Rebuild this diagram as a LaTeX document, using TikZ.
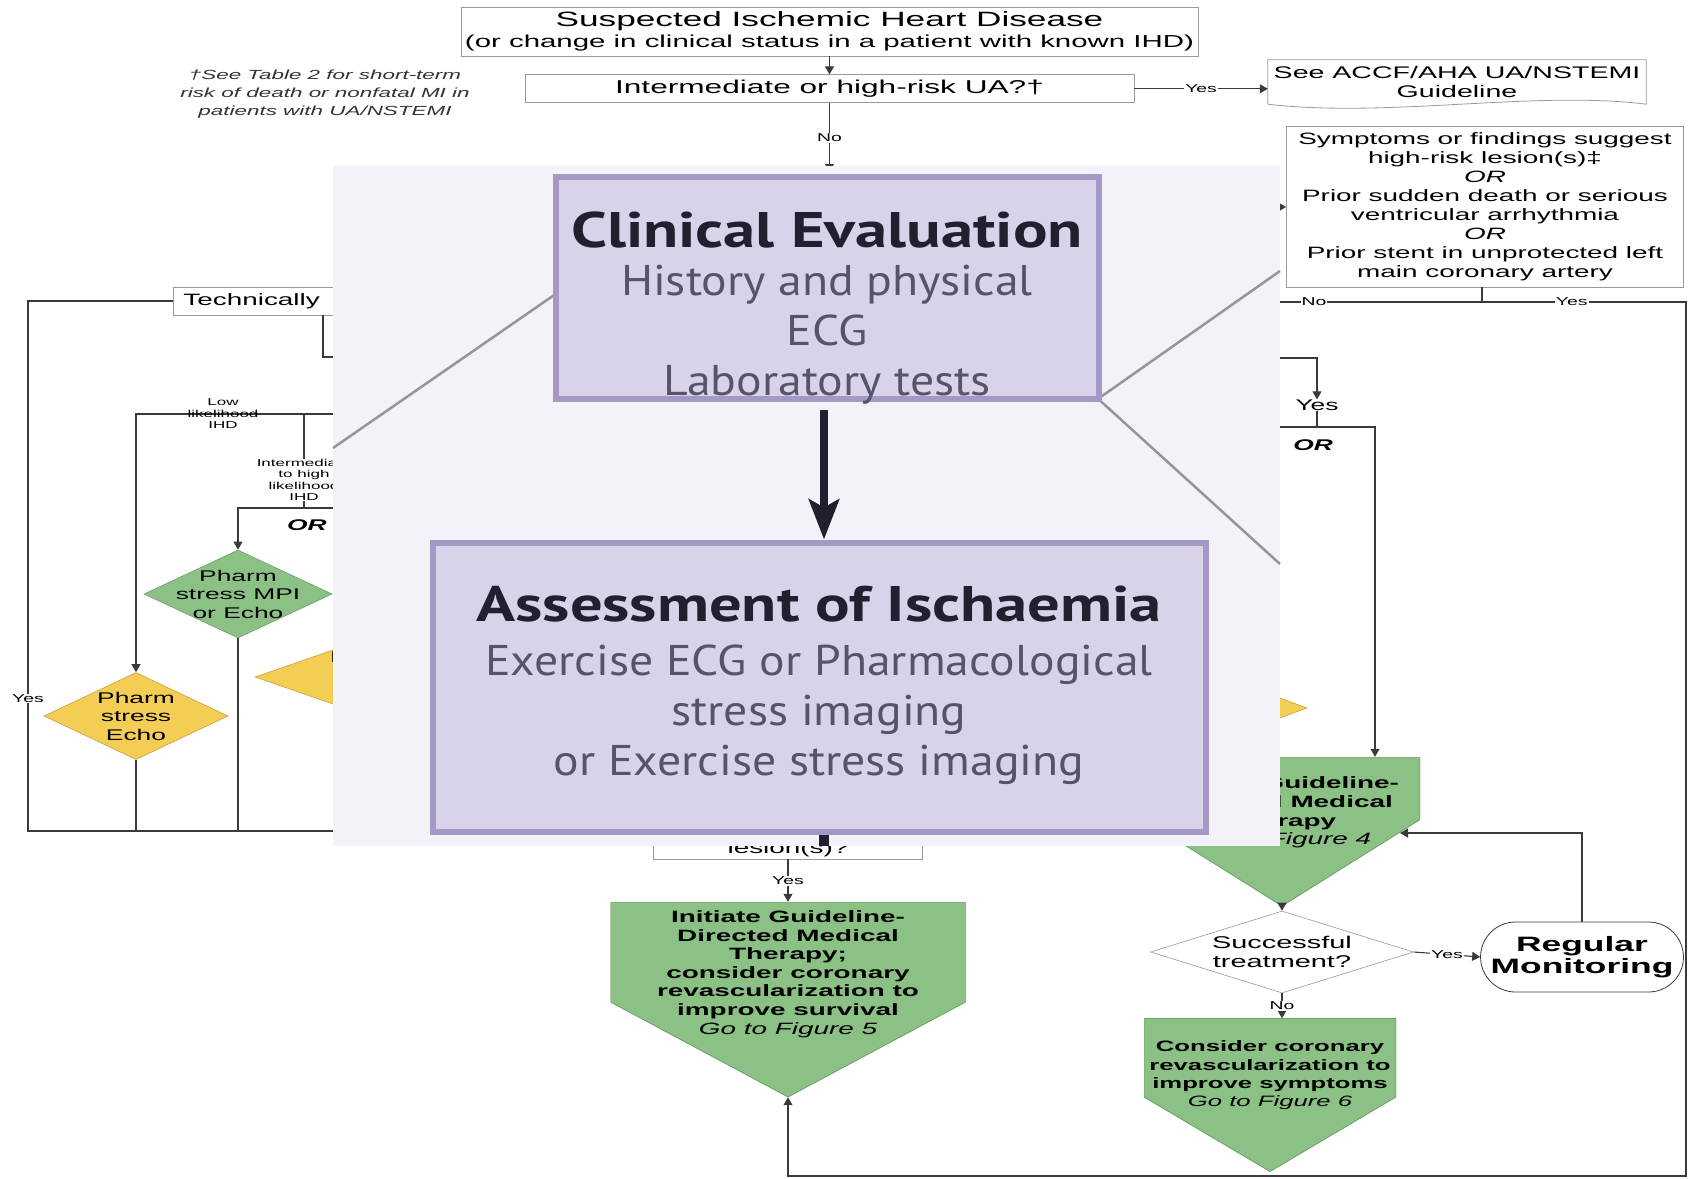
\documentclass[tikz,border=0pt]{standalone}
\usepackage{fontspec}
\setmainfont{Liberation Sans}
\newfontfamily\chartfont[FakeStretch=1.7]{Liberation Sans}
\newfontfamily\slidefont[FakeStretch=1.11]{PT Sans}
\newfontfamily\slidetitlefont[FakeStretch=1.29]{PT Sans}
\usetikzlibrary{arrows.meta,shapes.geometric,shapes.misc,calc,positioning}

\definecolor{gfill}{HTML}{8BC184}
\definecolor{gedge}{HTML}{6E9E69}
\definecolor{yfill}{HTML}{F4CD55}
\definecolor{yedge}{HTML}{C9A13E}
\definecolor{lineclr}{HTML}{3A3A3A}
\definecolor{boxedge}{HTML}{9A9A9A}
\definecolor{slidebg}{HTML}{F3F2F8}
\definecolor{slideline}{HTML}{96959E}
\definecolor{purfill}{HTML}{D9D3EA}
\definecolor{puredge}{HTML}{A598C6}
\definecolor{purtitle}{HTML}{221F2E}
\definecolor{pursub}{HTML}{57536B}

\newcommand{\fsz}[2]{\fontsize{#1}{#2}\selectfont}

\begin{document}
\begin{tikzpicture}[
  x=1pt, y=-1pt,
  conn/.style={draw=lineclr, line width=1.1pt},
  arr/.style={conn, -{Triangle[length=8pt,width=9pt]}},
  box/.style={rectangle, draw=boxedge, fill=white, line width=0.8pt, align=center, inner sep=0pt, font=\chartfont\fsz{16.4}{19}},
  lbl/.style={fill=white, inner sep=1pt, align=center, font=\chartfont\fsz{11.4}{12}},
  tinylbl/.style={inner sep=0pt, align=center, font=\chartfont\fsz{10}{11.5}},
  diam/.style={diamond, inner sep=0pt, line width=0.6pt},
  ydiam/.style={diam, draw=yedge, fill=yfill},
  gdiam/.style={diam, draw=gedge, fill=gfill},
  dtext/.style={inner sep=0pt, align=center, font=\chartfont\fsz{15.5}{18.5}},
  pent/.style={rectangle, inner sep=0pt, path picture={
      \filldraw[fill=gfill, draw=gedge, line width=0.8pt]
        (path picture bounding box.north west) -- (path picture bounding box.north east)
        -- ($(path picture bounding box.north east)!#1!(path picture bounding box.south east)$)
        -- (path picture bounding box.south)
        -- ($(path picture bounding box.north west)!#1!(path picture bounding box.south west)$)
        -- cycle;}},
  ptext/.style={inner sep=0pt, align=center, font=\chartfont\bfseries\fsz{16.4}{18.6}},
  orlbl/.style={inner sep=0pt, font=\chartfont\bfseries\itshape\fsz{15.5}{18}},
  purbox/.style={rectangle, draw=puredge, fill=purfill, line width=6pt},
  slidetitle/.style={inner sep=0pt, align=center, text=purtitle, font=\slidetitlefont\bfseries\fsz{50}{54}},
  slidesub/.style={inner sep=0pt, align=center, text=pursub, font=\slidefont\fsz{43}{50}}
]
\useasboundingbox (0,0) rectangle (1700,1178);
\fill[white] (0,0) rectangle (1700,1178);

% top of the chart
\node[box, minimum width=737, minimum height=49, font=\chartfont\fsz{17.3}{21}] (suspect) at (829.5,31.5)
  {{\fsz{20.7}{22}Suspected Ischemic Heart Disease}\\(or change in clinical status in a patient with known IHD)};
\node[box, minimum width=609, minimum height=28, font=\chartfont\fsz{18.6}{21}, below=18pt of suspect] (uacheck) {Intermediate or high-risk UA?†};
\node[font=\chartfont\fsz{16.8}{19}, align=center, minimum width=378, minimum height=44, inner sep=0pt] (seeguide) at (1457,82) {See ACCF/AHA UA/NSTEMI\\Guideline};
\draw[boxedge, line width=0.8pt] (seeguide.south west) -- (seeguide.north west) -- (seeguide.north east) -- (seeguide.south east)
  .. controls +(-110,-14) and +(120,14) .. (seeguide.south west);
\coordinate (toSlide) at (829.5,172);

\draw[arr] (suspect) -- (uacheck);
\draw[arr] (uacheck.east) -- node[lbl]{Yes} (uacheck.east -| seeguide.west);
\draw[arr] (uacheck.south) -- node[lbl]{No} (toSlide);

\node[font=\chartfont\itshape\fsz{13.2}{18}, align=center, text=black!80] (footnote) at (325,94)
  {†See Table 2 for short-term\\risk of death or nonfatal MI in\\patients with UA/NSTEMI};

% left branch
\node[box, anchor=west, text width=230, align=left, minimum height=28, inner xsep=10pt] (techbox) at (173,301) {Technically};
\node[gdiam, minimum width=188, minimum height=88, label={[dtext]center:{Pharm\\stress MPI\\or Echo}}] (mpi) at (238,594) {};
\node[ydiam, minimum width=184, minimum height=87, label={[dtext]center:{Pharm\\stress\\Echo}}] (echo) at (136,716) {};
\node[ydiam, minimum width=300, minimum height=104, label={[dtext, xshift=-36pt]center:{Pharm\\CCTA\\(…)}}] (ccta) at (405,677) {};
\node[orlbl] (orLeft) at (307,525) {OR};

\coordinate (techCorner) at (28,301);
\coordinate (botLeft) at (28,831);
\coordinate (botHidden) at (430,831);
\coordinate (techHidden) at (430,357);
\coordinate (lowHidden) at (430,414);
\coordinate (lowCorner) at (136,414);
\coordinate (midTop) at (304,414);
\coordinate (midBot) at (304,508);
\coordinate (orHidden) at (430,508);

\draw[conn] (techbox.west) -- (techCorner) -- node[lbl, pos=0.75]{Yes} (botLeft) -- (botHidden);
\draw[conn] (techbox.south -| 323,0) |- (techHidden);
\draw[arr] (lowHidden) -- node[tinylbl, pos=0.704]{Low\\likelihood\\IHD} (lowCorner) -- (echo.north);
\draw[conn] (midTop) -- node[tinylbl, fill=white, pos=0.70]{Intermediate\\to high\\likelihood\\IHD} (midBot);
\draw[arr] (orHidden) -| (mpi.north);
\draw[conn] (echo.south) -- (echo.south |- botLeft);
\draw[conn] (mpi.south) -- (mpi.south |- botLeft);

% right branch
\node[box, minimum width=397, minimum height=161] (highrisk) at (1485,206.5)
  {Symptoms or findings suggest\\high-risk lesion(s)‡\\\textit{OR}\\Prior sudden death or serious\\ventricular arrhythmia\\\textit{OR}\\Prior stent in unprotected left\\main coronary artery};
\node[dtext] (yesRight) at (1317,405) {Yes};
\node[orlbl] (orRight) at (1313,445) {OR};
\node[ydiam, minimum width=314, minimum height=116] (rightdiam) at (1150,708) {};
\node[pent=0.42, minimum width=276, minimum height=149,
  label={[ptext, yshift=19pt]center:{Initiate Guideline-\\Directed Medical\\Therapy\\{\mdseries\itshape Go to Figure 4}}}] (gdmt) at (1282,831.5) {};
\node[diam, draw=boxedge, fill=white, minimum width=263, minimum height=82,
  label={[dtext, font=\chartfont\fsz{17}{19}]center:{Successful\\treatment?}}] (success) at (1282,952) {};
\node[rounded rectangle, draw=lineclr, line width=0.8pt, minimum width=200, minimum height=70, align=center,
  font=\chartfont\bfseries\fsz{20.8}{22}] (monitor) at (1582,957) {Regular\\Monitoring};
\node[pent=0.513, minimum width=252, minimum height=153,
  label={[ptext, font=\chartfont\bfseries\fsz{15.1}{18.3}, yshift=19.5pt]center:{Consider coronary\\revascularization to\\improve symptoms\\{\mdseries\itshape Go to Figure 6}}}] (revsym) at (1270,1095) {};

% middle bottom
\node[box, minimum width=269, minimum height=60,
  label={[anchor=south, inner sep=2pt, font=\chartfont\fsz{16.4}{19}]south:lesion(s)?}] (lesion) at (788,829) {};
\node[pent=0.513, minimum width=355, minimum height=195,
  label={[ptext, yshift=25.5pt]center:{Initiate Guideline-\\Directed Medical\\Therapy;\\consider coronary\\revascularization to\\improve survival\\{\mdseries\itshape Go to Figure 5}}}] (gdmtsurv) at (788,999.5) {};

\coordinate (intoRisk) at (1255,207);
\coordinate (riskSplit) at (1482,302);
\coordinate (riskNo) at (1255,302);
\coordinate (railTop) at (1686,302);
\coordinate (railBot) at (1686,1176);
\coordinate (yesHidden) at (1255,358);
\coordinate (orHiddenR) at (1255,427);
\coordinate (gdmtHit) at (1400,833);

\draw[arr] (intoRisk) -- (highrisk.west |- intoRisk);
\draw[conn] (highrisk.south -| riskSplit) -- (riskSplit);
\draw[conn] (riskSplit) -- node[lbl, pos=0.74]{No} (riskNo);
\draw[arr] (riskSplit) -- node[lbl, pos=0.44]{Yes} (railTop) -- (railBot) -| (gdmtsurv.south);
\draw[arr] (yesHidden) -| (yesRight.north);
\draw[conn] (yesRight.south) -- (yesRight.south |- orHiddenR);
\draw[arr] (orHiddenR) -| ([xshift=93pt]gdmt.north);
\draw[arr] (gdmt.south) -- (success.north);
\draw[arr] (success.east) -- node[lbl]{Yes} (monitor.west);
\draw[arr] (success.south) -- node[lbl]{No} (success.south |- revsym.north);
\draw[arr] (monitor.north) |- (gdmtHit);
\draw[arr] (lesion.south) -- node[lbl]{Yes} (gdmtsurv.north);

% pasted slide on top
\fill[slidebg] (333,166) rectangle (1280,846);
\draw[slideline, line width=2.5pt] (333,448) -- (560,291);
\draw[slideline, line width=2.5pt] (1095,401) -- (1280,271);
\draw[slideline, line width=2.5pt] (1095,396) -- (1280,564);
\node[purbox, minimum width=543, minimum height=222] (clinical) at (827,287.5) {};
\node[purbox, minimum width=773, minimum height=289] (ischaemia) at (819,687) {};
\node[slidetitle] (clinicalT) at (827,230) {Clinical Evaluation};
\node[slidesub] (clinicalS) at (827,335) {History and physical\\ECG\\Laboratory tests};
\node[slidetitle] (ischT) at (819,604) {Assessment of Ischaemia};
\node[slidesub] (ischS) at (819,715) {Exercise ECG or Pharmacological\\stress imaging\\or Exercise stress imaging};
\coordinate (slideBottom) at (824,846);
\draw[purtitle, line width=8pt, shorten <=8pt, -{Stealth[length=40pt,width=30pt,inset=8pt]}] (clinical.south -| slideBottom) -- (ischaemia.north -| slideBottom);
\draw[purtitle, line width=10pt] (ischaemia.south -| slideBottom) -- (slideBottom);
\end{tikzpicture}
\end{document}
